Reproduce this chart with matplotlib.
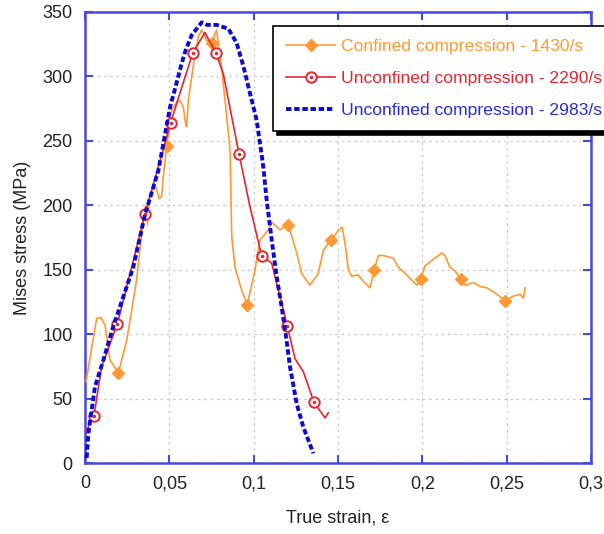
import numpy as np
import matplotlib
matplotlib.use("Agg")
import matplotlib.pyplot as plt
from matplotlib.path import Path

# Confined compression - 1430/s
conf_strain = [0.0006, 0.0069, 0.0095, 0.0119, 0.0148, 0.0198, 0.0247, 0.0286, 0.0306, 0.0336,
               0.0345, 0.0360, 0.0370, 0.0380, 0.0400, 0.0420, 0.0440, 0.0455, 0.0464, 0.0484,
               0.0514, 0.0544, 0.0565, 0.0583, 0.0598, 0.0603, 0.0613, 0.0642, 0.0672, 0.0692,
               0.0705, 0.0721, 0.0755, 0.0770, 0.0781, 0.0795, 0.0810, 0.0840, 0.0860, 0.0870,
               0.0889, 0.0929, 0.0962, 0.1008, 0.1038, 0.1087, 0.1107, 0.1156, 0.1206, 0.1255,
               0.1285, 0.1334, 0.1383, 0.1413, 0.1457, 0.1512, 0.1525, 0.1541, 0.1561, 0.1581,
               0.1620, 0.1650, 0.1690, 0.1715, 0.1739, 0.1769, 0.1828, 0.1858, 0.1907, 0.1967,
               0.1990, 0.2016, 0.2065, 0.2115, 0.2134, 0.2164, 0.2194, 0.2229, 0.2253, 0.2302,
               0.2342, 0.2381, 0.2431, 0.2490, 0.2530, 0.2579, 0.2599, 0.2609]
conf_stress = [63, 112, 113, 107, 80, 70, 95, 126, 142, 178,
               190, 200, 185, 205, 212, 214, 205, 207, 222, 246,
               274, 280, 281, 276, 262, 261, 282, 308, 331, 336,
               333, 328, 326, 333, 336, 320, 307, 269, 243, 176,
               152, 134, 123, 150, 173, 181, 187, 181, 185, 163,
               147, 138, 147, 165, 173, 182, 183, 171, 150, 145,
               146, 141, 136, 150, 161, 161, 159, 152, 146, 138,
               143, 153, 158, 163, 161, 152, 149, 143, 138, 140,
               137, 136, 132, 126, 129, 131, 128, 136]
conf_marks = [0.0198, 0.0484, 0.0755, 0.0962, 0.1206, 0.1457, 0.1715, 0.1990, 0.2229, 0.2490]

# Unconfined compression - 2290/s
unc1_strain = [0.0, 0.0053, 0.0099, 0.0192, 0.0356, 0.0508, 0.0553, 0.0638, 0.0711, 0.0777,
               0.0820, 0.0913, 0.0978, 0.1047, 0.1107, 0.1200, 0.1245, 0.1294, 0.1358, 0.1423, 0.1443]
unc1_stress = [22.5, 36.5, 75, 108, 193, 264, 283, 318, 334, 318,
               302, 240, 199, 161, 155, 106, 81, 71, 47, 35, 39]
unc1_marks = [0.0053, 0.0192, 0.0356, 0.0508, 0.0638, 0.0777, 0.0913, 0.1047, 0.1200, 0.1358]

# Unconfined compression - 2983/s
unc2_strain = [0.001, 0.002, 0.0059, 0.0109, 0.0168, 0.0227, 0.0286, 0.0356, 0.0435, 0.0504,
               0.0543, 0.0573, 0.0593, 0.0632, 0.0692, 0.0723, 0.0780, 0.0850, 0.0899, 0.0939,
               0.0978, 0.1018, 0.1057, 0.1077, 0.1107, 0.1136, 0.1166, 0.1192, 0.1215, 0.1255,
               0.1294, 0.1354]
unc2_stress = [4, 23, 59, 80, 106, 129, 152, 193, 227, 276,
               295, 310, 319, 332, 342, 340, 340, 337, 326, 308,
               287, 266, 230, 204, 173, 145, 121, 98, 75, 46,
               28, 7.5]

x_ticks = [0, 0.05, 0.1, 0.15, 0.2, 0.25, 0.3]
x_labels = ["0", "0,05", "0,1", "0,15", "0,2", "0,25", "0,3"]
y_ticks = [0, 50, 100, 150, 200, 250, 300, 350]

plt.rcParams['font.family'] = ['Liberation Sans', 'DejaVu Sans']

orange = '#ff9933'
red = '#e32630'
blue = '#0a0ad2'
spine = '#4848dd'

# open circle with a dot in the middle
ring = Path.make_compound_path(Path.circle((0, 0), 1.0), Path.circle((0, 0), 0.15))

fig = plt.figure(figsize=(6.04, 5.34), dpi=100)
ax = fig.add_axes([85 / 604, 1 - 463 / 534, 506 / 604, 451 / 534])

ax.plot(conf_strain, conf_stress, color=orange, lw=1.2, marker='D', ms=6.3, mec=orange, mfc=orange,
        markevery=[i for i, s in enumerate(conf_strain) if s in conf_marks],
        label='Confined compression - 1430/s', zorder=3)
ax.plot(unc1_strain, unc1_stress, color=red, lw=1.2, marker=ring, ms=7.5, mec=red, mfc='white', mew=1.4,
        markevery=[i for i, s in enumerate(unc1_strain) if s in unc1_marks],
        label='Unconfined compression - 2290/s', zorder=4)
ax.plot(unc2_strain, unc2_stress, color=blue, lw=2.8, ls=(0, (1.4, 0.7)),
        label='Unconfined compression - 2983/s', zorder=5)

ax.set_xlim(0, 0.3)
ax.set_ylim(0, 350)
ax.set_xticks(x_ticks)
ax.set_xticklabels(x_labels)
ax.set_yticks(y_ticks)
ax.tick_params(direction='in', length=6, width=1.5, color=spine, labelsize=13,
               labelcolor='#222222', top=True, right=True, pad=9)
for sp in ax.spines.values():
    sp.set_color(spine)
    sp.set_linewidth(1.8)
ax.grid(True, ls=(0, (2, 3)), color='#c8c8c8', lw=0.9)

ax.set_xlabel('True strain, ε', fontsize=13, color='#222222', labelpad=12)
ax.set_ylabel('Mises stress (MPa)', fontsize=13, color='#222222', labelpad=8)

leg = ax.legend(loc='upper left', bbox_to_anchor=(273 / 604, 1 - 26 / 534),
                bbox_transform=fig.transFigure, fontsize=12.6, frameon=True, fancybox=False,
                edgecolor='black', framealpha=1, borderaxespad=0, handlelength=2.8,
                labelspacing=0.95, borderpad=0.75, handletextpad=0.35,
                shadow={'color': 'black', 'alpha': 1, 'ox': 3, 'oy': -3})
leg.get_frame().set_linewidth(1.2)
for txt, c in zip(leg.get_texts(), [orange, red, '#2a2ae0']):
    txt.set_color(c)

fig.savefig('out.png', dpi=100)
